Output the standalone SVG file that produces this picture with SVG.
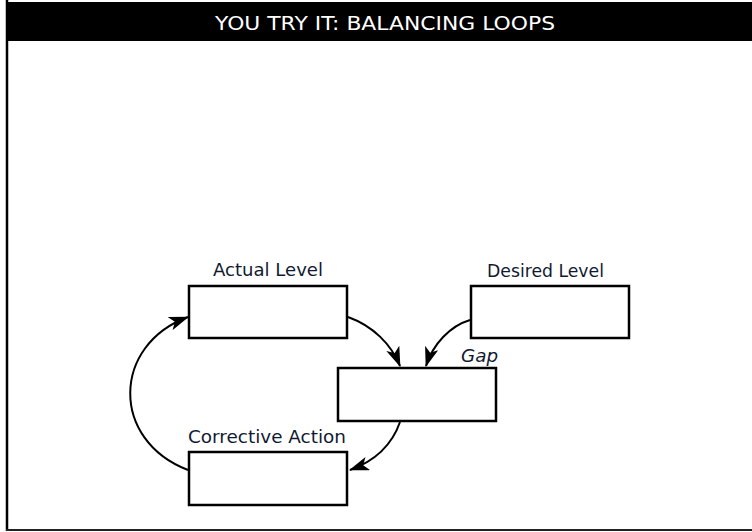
<svg xmlns="http://www.w3.org/2000/svg" width="752" height="532" viewBox="0 0 752 532">
<defs>
<style>
.box{fill:#fff;stroke:#000;stroke-width:2.5}
.lbl{font-family:"Comic Sans MS","DejaVu Sans",sans-serif;font-size:17px;fill:#111a33}
.ttl{font-family:"Comic Sans MS","DejaVu Sans",sans-serif;font-size:20px;fill:#fff}
.con{fill:none;stroke:#000;stroke-width:2}
</style>
<marker id="ah" viewBox="0 0 20 14" refX="19" refY="7" markerWidth="20" markerHeight="14" markerUnits="userSpaceOnUse" orient="auto">
<path d="M0,0 L20,7 L0,14 L5,7 Z" fill="#000"/>
</marker>
</defs>
<rect x="0" y="0" width="752" height="532" fill="#fff"/>
<g id="frame">
<rect x="6" y="2" width="746" height="39" fill="#000"/>
<line x1="7" y1="0" x2="7" y2="531" stroke="#000" stroke-width="2.5"/>
<line x1="6" y1="530" x2="752" y2="530" stroke="#222" stroke-width="2"/>
<text class="ttl" x="215" y="30" textLength="340" lengthAdjust="spacingAndGlyphs">YOU TRY IT: BALANCING LOOPS</text>
</g>
<g id="connectors">
<path class="con" d="M348,317 C373,326 391,344 400,366" marker-end="url(#ah)"/>
<path class="con" d="M470,320 C450,326 433,344 426,366" marker-end="url(#ah)"/>
<path class="con" d="M400,422 C392,445 375,461 350,470" marker-end="url(#ah)"/>
<path class="con" d="M188,470 C110,440 112,345 188,317" marker-end="url(#ah)"/>
</g>
<g id="actual-level">
<rect class="box" x="189" y="286" width="158" height="52"/>
<text class="lbl" x="213" y="276" textLength="110" lengthAdjust="spacingAndGlyphs">Actual Level</text>
</g>
<g id="desired-level">
<rect class="box" x="471" y="286" width="158" height="52"/>
<text class="lbl" x="487" y="277" textLength="117" lengthAdjust="spacingAndGlyphs">Desired Level</text>
</g>
<g id="gap">
<rect class="box" x="338" y="368" width="158" height="53"/>
<text class="lbl" x="461" y="362" textLength="37" lengthAdjust="spacingAndGlyphs" font-style="italic">Gap</text>
</g>
<g id="corrective-action">
<rect class="box" x="189" y="452" width="158" height="53"/>
<text class="lbl" x="188" y="443" textLength="158" lengthAdjust="spacingAndGlyphs">Corrective Action</text>
</g>
</svg>
